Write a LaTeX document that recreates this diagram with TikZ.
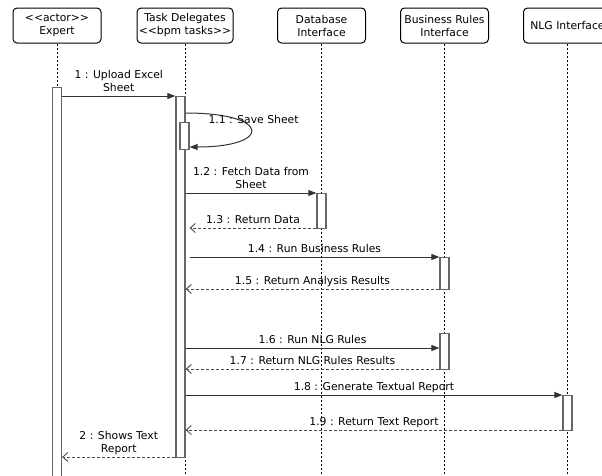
\documentclass[tikz,border=0pt]{standalone}
\usepackage{fontspec}
\setmainfont{DejaVu Sans}
\usetikzlibrary{arrows.meta}
\tikzset{
  lifehead/.style={draw, line width=1pt, rounded corners=4pt, minimum width=88pt, minimum height=35pt, align=center, inner sep=1pt},
  lifeline/.style={dash pattern=on 2pt off 2pt, line width=0.8pt},
  actbar/.style={draw=black!60, fill=white, line width=1.3pt, minimum width=9pt, inner sep=0pt, anchor=north},
  callmsg/.style={draw=black!80, line width=1pt, -{Triangle[length=8pt,width=6pt]}},
  retmsg/.style={draw=black!70, line width=0.9pt, dash pattern=on 3pt off 2pt, -{Straight Barb[length=5pt,width=9pt]}},
  msglabel/.style={midway, above=4pt, inner sep=0pt, text depth=0pt, align=center}
}
\begin{document}
\begin{tikzpicture}[x=1pt,y=-1pt,font=\fontsize{10.8}{13}\selectfont]
  \clip (0,0) rectangle (602,475);
  % heads
  \node[lifehead] (exp) at (57,25.5) {<{}<actor>{}>\\Expert};
  \node[lifehead, minimum width=96pt] (task) at (185,25.5) {Task Delegates\\<{}<bpm tasks>{}>};
  \node[lifehead] (db) at (321.5,25.5) {Database\\Interface};
  \node[lifehead] (br) at (444.5,25.5) {Business Rules\\Interface};
  \node[lifehead] (nlg) at (567.5,25.5) {NLG Interface};
  \foreach \l in {exp,task,db,br,nlg}
    \draw[lifeline] (\l.south) -- (\l.south |- 0,475);
  % activations
  \node[actbar, minimum height=390pt] (aexp) at (57,87) {};
  \node[actbar, minimum height=361pt] (atask) at (180.5,96) {};
  \node[actbar, minimum height=27pt] (asave) at (184.5,122) {};
  \node[actbar, minimum height=35pt] (adb) at (321.5,193) {};
  \node[actbar, minimum height=32pt] (abr1) at (444.5,257) {};
  \node[actbar, minimum height=36pt] (abr2) at (444.5,333) {};
  \node[actbar, minimum height=35pt] (anlg) at (567.5,395) {};
  % messages
  \draw[callmsg] (aexp.east |- 0,96) -- (atask.west |- 0,96) node[msglabel] {1 : Upload Excel\\Sheet};
  \draw[callmsg] (atask.east |- 0,113) .. controls (272,113) and (272,147) .. (asave.east |- 0,147);
  \node[anchor=base west] (lsave) at (205,123) {1.1 : Save Sheet};
  \draw[callmsg] (atask.east |- 0,193) -- (adb.west |- 0,193) node[msglabel] {1.2 : Fetch Data from\\Sheet};
  \draw[retmsg] (adb.west |- 0,228) -- (asave.east |- 0,228) node[msglabel] {1.3 : Return Data};
  \draw[callmsg] (asave.east |- 0,257) -- (abr1.west |- 0,257) node[msglabel] {1.4 : Run Business Rules};
  \draw[retmsg] (abr1.west |- 0,289) -- (atask.east |- 0,289) node[msglabel] {1.5 : Return Analysis Results};
  \draw[callmsg] (atask.east |- 0,348) -- (abr2.west |- 0,348) node[msglabel] {1.6 : Run NLG Rules};
  \draw[retmsg] (abr2.west |- 0,369) -- (atask.east |- 0,369) node[msglabel] {1.7 : Return NLG Rules Results};
  \draw[callmsg] (atask.east |- 0,395) -- (anlg.west |- 0,395) node[msglabel] {1.8 : Generate Textual Report};
  \draw[retmsg] (anlg.west |- 0,430) -- (atask.east |- 0,430) node[msglabel] {1.9 : Return Text Report};
  \draw[retmsg] (atask.west |- 0,457) -- (aexp.east |- 0,457) node[msglabel] {2 : Shows Text\\Report};
\end{tikzpicture}
\end{document}
